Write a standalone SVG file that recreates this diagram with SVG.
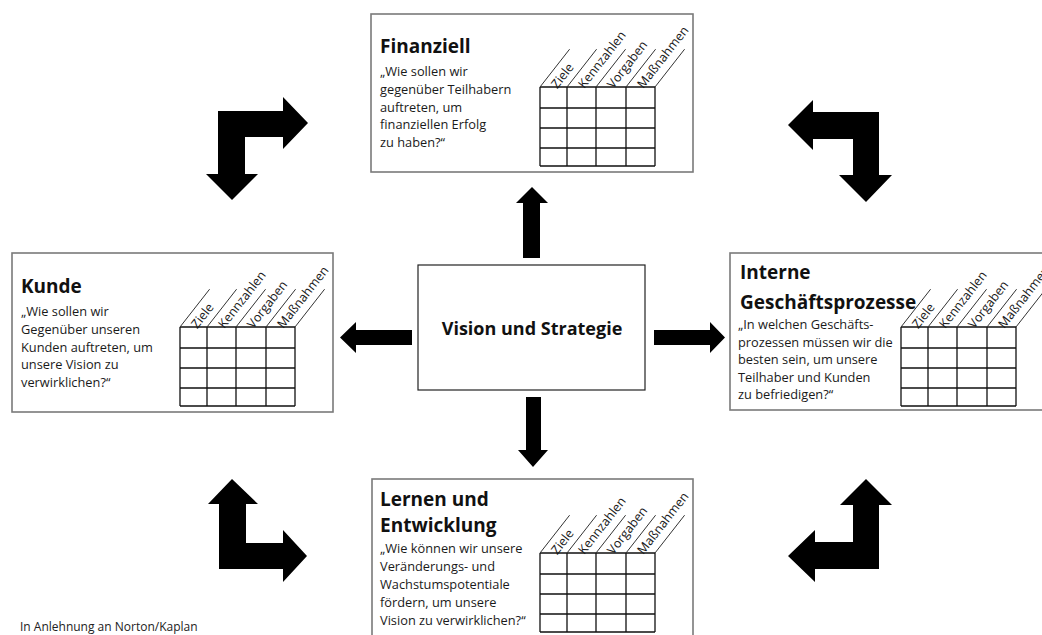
<svg xmlns="http://www.w3.org/2000/svg" xmlns:xlink="http://www.w3.org/1999/xlink" width="1042" height="635" viewBox="0 0 1042 635">
<style>
.box{fill:#fff;stroke:#7a7a7a;stroke-width:1.6}
.cbox{fill:#fff;stroke:#222;stroke-width:1.2}
.title{font-family:"Open Sans","Noto Sans",sans-serif;font-weight:bold;font-size:19px;fill:#111}
.ctitle{font-family:"Open Sans","Noto Sans",sans-serif;font-weight:bold;font-size:18px;fill:#111}
.body{font-family:"Open Sans","Noto Sans",sans-serif;font-size:12.8px;fill:#1a1a1a}
.lbl{font-family:"Open Sans","Noto Sans",sans-serif;font-size:12.5px;fill:#1a1a1a}
.grid{stroke:#111;stroke-width:1.3;fill:none}
.diag{stroke:#333;stroke-width:1;fill:none}
.arrow{fill:#000}
.note{font-family:"Open Sans","Noto Sans",sans-serif;font-size:12px;fill:#222}
</style>
<defs>
<g id="tbl">
<path class="grid" d="M0,0H115M0,21H115M0,41H115M0,61H115M0,79H115M0,0V79M27,0V79M56,0V79M86,0V79M115,0V79"/>
<path class="diag" d="M0,0l29.6,-37.8M27,0l29.6,-37.8M56,0l29.6,-37.8M86,0l29.6,-37.8M115,0l29.6,-37.8"/>
<text class="lbl" transform="translate(0,0) rotate(-52)" x="9" y="15">Ziele</text>
<text class="lbl" transform="translate(27,0) rotate(-52)" x="9" y="15">Kennzahlen</text>
<text class="lbl" transform="translate(56,0) rotate(-52)" x="9" y="15">Vorgaben</text>
<text class="lbl" transform="translate(86,0) rotate(-52)" x="9" y="15">Maßnahmen</text>
</g>
</defs>
<rect width="1042" height="635" fill="#fff"/>

<g id="connectors">
<path class="arrow" d="M523,258V203H516L532,187L548,203H540V258Z"/>
<path class="arrow" d="M526,397H541V450H548L533,467L518,450H526Z"/>
<path class="arrow" d="M412,330H356V322L340,337.5L356,353V345H412Z"/>
<path class="arrow" d="M654,330H710V322L725,337.5L710,353V345H654Z"/>
<path class="arrow" d="M218,111H283V97L308,123L283,149V137H245V174H258L232,200L206,174H218Z"/>
<path class="arrow" d="M879,112H813V100L788,125L813,150V139H853V175H839L866,202L892,175H879Z"/>
<path class="arrow" d="M219,569V504H208L232,479L258,504H246V543H283V530L307,556L283,582V569Z"/>
<path class="arrow" d="M879,569H815V582L788,556L815,530V542H853V505H840L866,479L892,505H879Z"/>
</g>

<g id="finanziell">
<rect class="box" x="371" y="14" width="322" height="158"/>
<text class="title" x="380" y="53">Finanziell</text>
<text class="body" x="380" y="76">„Wie sollen wir</text>
<text class="body" x="380" y="93.8">gegenüber Teilhabern</text>
<text class="body" x="380" y="111.6">auftreten, um</text>
<text class="body" x="380" y="129.4">finanziellen Erfolg</text>
<text class="body" x="380" y="147.2">zu haben?“</text>
<use xlink:href="#tbl" href="#tbl" x="540" y="87"/>
</g>

<g id="kunde">
<rect class="box" x="12" y="253" width="321" height="159"/>
<text class="title" x="21" y="293">Kunde</text>
<text class="body" x="21" y="316">„Wie sollen wir</text>
<text class="body" x="21" y="333.8">Gegenüber unseren</text>
<text class="body" x="21" y="351.6">Kunden auftreten, um</text>
<text class="body" x="21" y="369.4">unsere Vision zu</text>
<text class="body" x="21" y="387.2">verwirklichen?“</text>
<use xlink:href="#tbl" href="#tbl" x="180" y="327"/>
</g>

<g id="intern">
<rect class="box" x="730" y="253" width="330" height="157"/>
<text class="title" x="740" y="279">Interne</text>
<text class="title" x="740" y="309">Geschäftsprozesse</text>
<text class="body" x="738" y="329">„In welchen Geschäfts-</text>
<text class="body" x="738" y="346.5">prozessen müssen wir die</text>
<text class="body" x="738" y="364">besten sein, um unsere</text>
<text class="body" x="738" y="381.5">Teilhaber und Kunden</text>
<text class="body" x="738" y="399">zu befriedigen?“</text>
<use xlink:href="#tbl" href="#tbl" x="901" y="327"/>
</g>

<g id="lernen">
<rect class="box" x="372" y="479" width="321" height="170"/>
<text class="title" x="380" y="506">Lernen und</text>
<text class="title" x="380" y="532">Entwicklung</text>
<text class="body" x="380" y="553">„Wie können wir unsere</text>
<text class="body" x="380" y="571">Veränderungs- und</text>
<text class="body" x="380" y="589">Wachstumspotentiale</text>
<text class="body" x="380" y="607">fördern, um unsere</text>
<text class="body" x="380" y="625">Vision zu verwirklichen?“</text>
<use xlink:href="#tbl" href="#tbl" x="540" y="553"/>
</g>

<g id="vision">
<rect class="cbox" x="418" y="265" width="227" height="125"/>
<text class="ctitle" x="532" y="335" text-anchor="middle">Vision und Strategie</text>
</g>

<text class="note" x="20" y="631">In Anlehnung an Norton/Kaplan</text>
</svg>
